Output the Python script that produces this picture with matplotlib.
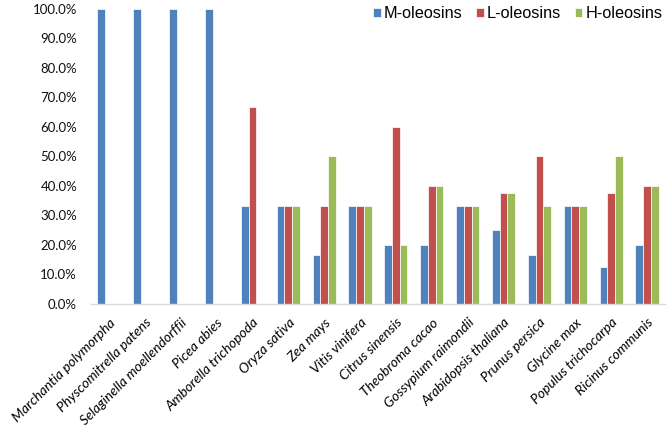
import matplotlib
matplotlib.use("Agg")
import matplotlib.pyplot as plt
import numpy as np
from matplotlib.ticker import FuncFormatter, MultipleLocator

# species on the x axis
species = ["Marchantia polymorpha", "Physcomitrella patens", "Selaginella moellendorffii",
           "Picea abies", "Amborella trichopoda", "Oryza sativa", "Zea mays", "Vitis vinifera",
           "Citrus sinensis", "Theobroma cacao", "Gossypium raimondii", "Arabidopsis thaliana",
           "Prunus persica", "Glycine max", "Populus trichocarpa", "Ricinus communis"]

# share of each oleosin lineage (fraction)
m_oleosins = [1.0, 1.0, 1.0, 1.0, 0.333, 0.333, 0.167, 0.333, 0.20, 0.20, 0.333, 0.25,
              0.167, 0.333, 0.125, 0.20]
l_oleosins = [0, 0, 0, 0, 0.667, 0.333, 0.333, 0.333, 0.60, 0.40, 0.333, 0.375,
              0.50, 0.333, 0.375, 0.40]
h_oleosins = [0, 0, 0, 0, 0, 0.333, 0.50, 0.333, 0.20, 0.40, 0.333, 0.375,
              0.333, 0.333, 0.50, 0.40]

series = [("M-oleosins", m_oleosins, "#4F81BD"),
          ("L-oleosins", l_oleosins, "#C0504D"),
          ("H-oleosins", h_oleosins, "#9BBB59")]

fig = plt.figure(figsize=(6.69, 4.36), dpi=100)
ax = fig.add_axes([0.136, 0.303, 0.858, 0.677])

x = np.arange(len(species))
w = 0.215
for i, (name, vals, col) in enumerate(series):
    ax.bar(x + (i - 1) * w, vals, width=w, color=col, edgecolor="white",
           linewidth=0.5, label=name, zorder=2)

ax.set_xlim(-0.5, len(species) - 0.5)
ax.set_ylim(0, 1.0)
ax.yaxis.set_major_locator(MultipleLocator(0.1))
ax.yaxis.set_major_formatter(FuncFormatter(lambda v, p: "%.1f%%" % (v * 100)))

for s in ["top", "right", "left"]:
    ax.spines[s].set_visible(False)
ax.spines["bottom"].set_color("#D9D9D9")
ax.spines["bottom"].set_linewidth(1.0)
ax.tick_params(axis="both", length=0)
ax.tick_params(axis="y", labelsize=9.5, pad=10, labelfontfamily="Lato", labelcolor="#111111")

ax.set_xticks(x)
ax.set_xticklabels(species, rotation=45, ha="right", rotation_mode="anchor",
                   fontsize=10, style="italic", family="Lato")
ax.tick_params(axis="x", pad=9)

leg = ax.legend(loc="upper right", bbox_to_anchor=(1.007, 1.03), ncol=3, frameon=False,
                prop={"family": "Liberation Sans", "size": 11.7},
                handlelength=0.45, handleheight=0.45, handletextpad=0.2, columnspacing=0.85,
                borderaxespad=0)

fig.savefig("out.png", dpi=100)
